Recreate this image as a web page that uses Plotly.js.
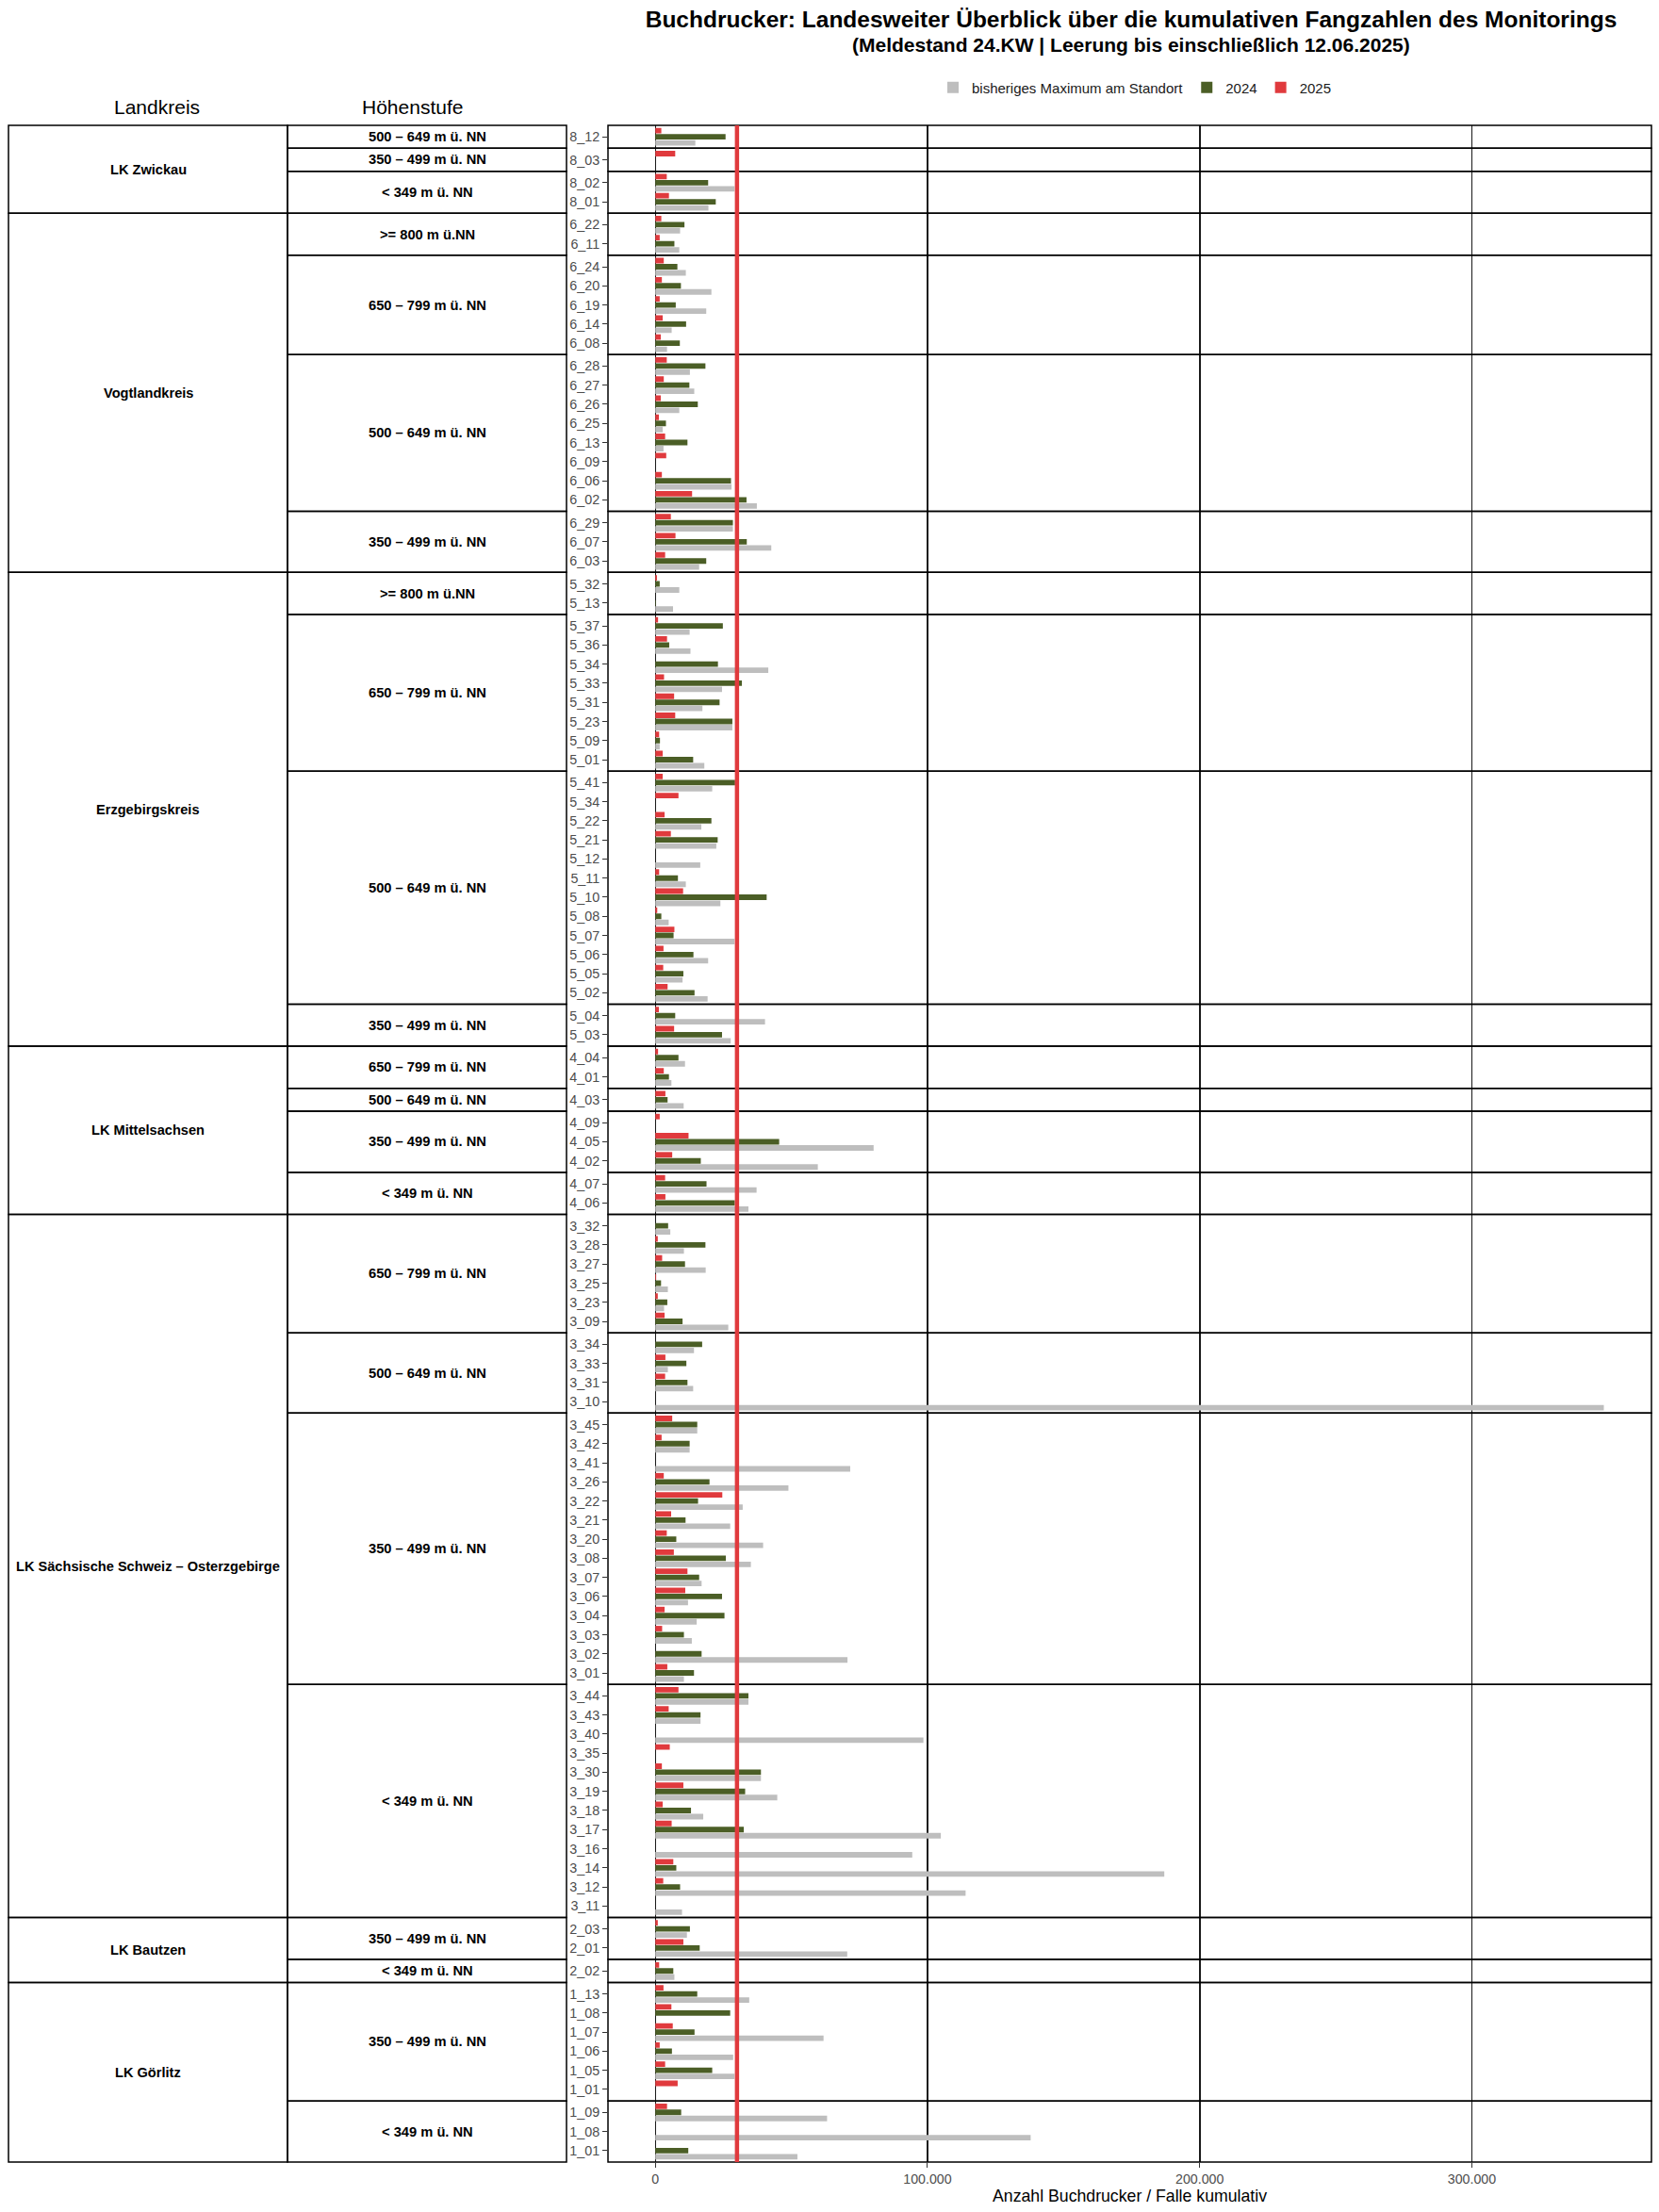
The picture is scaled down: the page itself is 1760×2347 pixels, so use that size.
<!DOCTYPE html>
<html>
<head>
<meta charset="utf-8">
<script src="https://cdn.plot.ly/plotly-3.0.1.min.js"></script>
<style>
html,body{margin:0;padding:0;background:#ffffff;}
#chart{width:1760px;height:2347px;}
</style>
</head>
<body>
<div id="chart"></div>
<script>
// ---------------- DATA ----------------
const panelKreis = [
  'LK Zwickau','LK Zwickau','LK Zwickau',
  'Vogtlandkreis','Vogtlandkreis','Vogtlandkreis','Vogtlandkreis',
  'Erzgebirgskreis','Erzgebirgskreis','Erzgebirgskreis','Erzgebirgskreis',
  'LK Mittelsachsen','LK Mittelsachsen','LK Mittelsachsen','LK Mittelsachsen',
  'LK Sächsische Schweiz – Osterzgebirge','LK Sächsische Schweiz – Osterzgebirge','LK Sächsische Schweiz – Osterzgebirge','LK Sächsische Schweiz – Osterzgebirge',
  'LK Bautzen','LK Bautzen',
  'LK Görlitz','LK Görlitz'
];
const panelStufe = [
  '500 – 649 m ü. NN','350 – 499 m ü. NN','< 349 m ü. NN',
  '>= 800 m ü.NN','650 – 799 m ü. NN','500 – 649 m ü. NN','350 – 499 m ü. NN',
  '>= 800 m ü.NN','650 – 799 m ü. NN','500 – 649 m ü. NN','350 – 499 m ü. NN',
  '650 – 799 m ü. NN','500 – 649 m ü. NN','350 – 499 m ü. NN','< 349 m ü. NN',
  '650 – 799 m ü. NN','500 – 649 m ü. NN','350 – 499 m ü. NN','< 349 m ü. NN',
  '350 – 499 m ü. NN','< 349 m ü. NN',
  '350 – 499 m ü. NN','< 349 m ü. NN'
];
const panelSize = [1,1,2, 2,5,8,3, 2,8,12,2, 2,1,3,2, 6,4,14,12, 2,1, 6,3];

// sites listed top to bottom
const sites = [
  '8_12','8_03','8_02','8_01',
  '6_22','6_11',
  '6_24','6_20','6_19','6_14','6_08',
  '6_28','6_27','6_26','6_25','6_13','6_09','6_06','6_02',
  '6_29','6_07','6_03',
  '5_32','5_13',
  '5_37','5_36','5_34','5_33','5_31','5_23','5_09','5_01',
  '5_41','5_34','5_22','5_21','5_12','5_11','5_10','5_08','5_07','5_06','5_05','5_02',
  '5_04','5_03',
  '4_04','4_01',
  '4_03',
  '4_09','4_05','4_02',
  '4_07','4_06',
  '3_32','3_28','3_27','3_25','3_23','3_09',
  '3_34','3_33','3_31','3_10',
  '3_45','3_42','3_41','3_26','3_22','3_21','3_20','3_08','3_07','3_06','3_04','3_03','3_02','3_01',
  '3_44','3_43','3_40','3_35','3_30','3_19','3_18','3_17','3_16','3_14','3_12','3_11',
  '2_03','2_01',
  '2_02',
  '1_13','1_08','1_07','1_06','1_05','1_01',
  '1_09','1_08','1_01'
];
const maxPrev = [
  14700,0,29100,19500,
  9100,8800,
  11200,20600,18700,6000,4300,
  12700,14300,8800,2700,3000,0,28000,37300,
  28500,42600,16100,
  8800,6500,
  12600,12900,41500,24500,17300,28300,1600,18000,
  20900,0,16900,22400,16500,11200,23900,4900,29100,19400,10000,19200,
  40300,27700,
  10900,5900,
  10400,
  0,80200,59700,
  37200,34200,
  5500,10500,18500,4600,3200,26800,
  14200,4600,13900,348500,
  15400,12600,71600,48900,32100,27500,39600,35100,17000,12000,15200,13400,70600,10500,
  34200,16600,98500,0,38800,44800,17600,104900,94400,187000,114000,9800,
  11600,70500,
  7000,
  34500,0,61800,28600,29100,0,
  63100,137900,52200
];
const v2024 = [
  25800,0,19400,22200,
  10700,7000,
  8100,9400,7500,11300,9000,
  18400,12500,15600,3900,11800,0,27800,33500,
  28500,33600,18700,
  1600,200,
  24800,5100,23000,31800,23600,28300,1700,13900,
  29300,0,20600,22900,0,8300,40900,2200,6700,14000,10300,14400,
  7300,24500,
  8500,5000,
  4500,
  0,45500,16700,
  18800,29200,
  4700,18400,10900,2100,4400,10000,
  17200,11400,11800,0,
  15400,12600,0,19900,15700,11100,7700,25900,16100,24500,25400,10500,17000,14200,
  34200,16600,0,0,38800,33000,13100,32500,0,7700,9100,0,
  12700,16300,
  6600,
  15400,27500,14400,6100,20900,0,
  9500,0,12100
];
const v2025 = [
  2200,7300,4200,5000,
  2200,1600,
  3100,2400,1600,2700,2000,
  4200,3100,2000,1300,3600,4000,2400,13500,
  5700,7400,3600,
  600,0,
  1000,4300,0,3200,6900,7300,1400,2700,
  2700,8500,3400,5700,0,1400,10200,700,7000,3000,2900,4500,
  1300,6900,
  1000,3100,
  3700,
  1600,12200,6200,
  3600,3700,
  0,900,2500,300,900,3400,
  0,3700,3600,0,
  6200,2300,0,3100,24600,5800,4200,6800,11800,11000,3400,2500,0,4400,
  8500,4900,0,5300,2400,10300,2700,6000,0,6600,2900,0,
  900,10300,
  1400,
  3000,5900,6400,1600,3600,8200,
  4300,0,0
];
const seriesNames = ['bisheriges Maximum am Standort','2024','2025'];
const THRESHOLD = 30000;
const xTickVals = [0,100000,200000,300000];
const xTickLabels = ['0','100.000','200.000','300.000'];

// ---------------- STYLE / LAYOUT ----------------
const W = 1760, H = 2347;
const TOP = 133, BOT = 2294;
const PL = 645, PR = 1752;
const TL = 9, TM = 305, TR = 601;
const COLORS = ['#bebebe','#4b5e26','#e03a3d'];
const FONT = 'Liberation Sans, Arial, Helvetica, sans-serif';
const LINE = {color:'#000000', width:1.5};

const units = panelSize.reduce((a,n)=>a+n+0.2,0);
const u = (BOT-TOP)/units;
const py = px => 1 - px/H;
const pxX = px => px/W;

const traces = [], shapes = [], annotations = [];
const layout = {
  width: W, height: H,
  margin:{l:0,r:0,t:0,b:0},
  paper_bgcolor:'#ffffff', plot_bgcolor:'#ffffff',
  font:{family:FONT, color:'#000000'},
  barmode:'group', bargap:0.04, bargroupgap:0.1,
  showlegend:true,
  legend:{orientation:'h', x:1204/W, xanchor:'center', y:py(93), yanchor:'middle',
          font:{size:15,color:'#1a1a1a'}, traceorder:'normal', itemwidth:30, bgcolor:'rgba(0,0,0,0)'},
  title:{text:'<b>Buchdrucker: Landesweiter Überblick über die kumulativen Fangzahlen des Monitorings</b>',
         x:1200/W, xanchor:'center', y:py(20), yanchor:'middle', font:{size:24.5,color:'#000000', family:FONT}},
};

let cursor = TOP, idx = 0;
const panelBounds = [];
panelSize.forEach((n,p)=>{
  const y0 = cursor, y1 = cursor + (n+0.2)*u;
  cursor = y1;
  panelBounds.push([y0,y1]);
  const labs = sites.slice(idx, idx+n);
  const vals = [maxPrev.slice(idx,idx+n), v2024.slice(idx,idx+n), v2025.slice(idx,idx+n)];
  idx += n;
  const yname = p===0 ? 'y' : 'y'+(p+1);
  const ykey = p===0 ? 'yaxis' : 'yaxis'+(p+1);
  layout[ykey] = {
    domain:[py(y1), py(y0)], anchor:'x', type:'category',
    categoryorder:'array', categoryarray: labs.slice().reverse(),
    range:[-0.6, n-0.4], tickmode:'linear', tick0:0, dtick:1,
    ticks:'outside', ticklen:5, tickwidth:1, tickcolor:'#333333',
    tickfont:{size:14.3,color:'#4d4d4d',family:FONT},
    showgrid:false, zeroline:false, showline:false, fixedrange:true
  };
  for (let s=0;s<3;s++){
    traces.push({
      type:'bar', orientation:'h', x: vals[s], y: labs,
      xaxis:'x', yaxis: yname, name: seriesNames[s], legendgroup: seriesNames[s],
      showlegend: p===0, marker:{color:COLORS[s], line:{width:0}}, hoverinfo:'x+y+name'
    });
  }
  // panel border
  shapes.push({type:'rect', xref:'paper', yref:'paper', x0:pxX(PL), x1:pxX(PR), y0:py(y1), y1:py(y0),
               line:LINE, fillcolor:'rgba(0,0,0,0)', layer:'above'});
  // Höhenstufe cell
  shapes.push({type:'rect', xref:'paper', yref:'paper', x0:pxX(TM), x1:pxX(TR), y0:py(y1), y1:py(y0),
               line:LINE, fillcolor:'rgba(0,0,0,0)'});
  annotations.push({xref:'paper', yref:'paper', x:pxX((TM+TR)/2), y:py((y0+y1)/2), xanchor:'center', yanchor:'middle',
                    text:'<b>'+panelStufe[p].replace('<','&lt;')+'</b>', showarrow:false, font:{size:14.7,color:'#000000',family:FONT}});
});

// Landkreis groups
let g0 = 0;
for (let p=1;p<=panelKreis.length;p++){
  if (p===panelKreis.length || panelKreis[p]!==panelKreis[g0]){
    const y0 = panelBounds[g0][0], y1 = panelBounds[p-1][1];
    shapes.push({type:'rect', xref:'paper', yref:'paper', x0:pxX(TL), x1:pxX(TM), y0:py(y1), y1:py(y0),
                 line:LINE, fillcolor:'rgba(0,0,0,0)'});
    annotations.push({xref:'paper', yref:'paper', x:pxX((TL+TM)/2), y:py((y0+y1)/2), xanchor:'center', yanchor:'middle',
                      text:'<b>'+panelKreis[g0]+'</b>', showarrow:false, font:{size:14.6,color:'#000000',family:FONT}});
    g0 = p;
  }
}

// threshold line
shapes.push({type:'line', xref:'x', yref:'paper', x0:THRESHOLD, x1:THRESHOLD, y0:py(BOT), y1:py(TOP),
             line:{color:'#e03a3d', width:4.5}, layer:'above'});

// headers and subtitle
annotations.push({xref:'paper', yref:'paper', x:166/W, y:py(114), xanchor:'center', yanchor:'middle',
                  text:'Landkreis', showarrow:false, font:{size:21,color:'#000000',family:FONT}});
annotations.push({xref:'paper', yref:'paper', x:437/W, y:py(114), xanchor:'center', yanchor:'middle',
                  text:'Höhenstufe', showarrow:false, font:{size:21,color:'#000000',family:FONT}});
annotations.push({xref:'paper', yref:'paper', x:1200/W, y:py(48), xanchor:'center', yanchor:'middle',
                  text:'<b>(Meldestand 24.KW | Leerung bis einschließlich 12.06.2025)</b>', showarrow:false,
                  font:{size:21,color:'#000000',family:FONT}});

const lastY = 'y'+panelSize.length;
layout.xaxis = {
  domain:[pxX(PL), pxX(PR)], anchor:lastY, range:[-17400, 366000],
  tickmode:'array', tickvals:xTickVals, ticktext:xTickLabels,
  showgrid:true, gridcolor:'#1a1a1a', gridwidth:1.8,
  zeroline:true, zerolinecolor:'#1a1a1a', zerolinewidth:1,
  ticks:'outside', ticklen:5, tickwidth:1, tickcolor:'#333333',
  tickfont:{size:14.2,color:'#4d4d4d',family:FONT},
  showline:false, fixedrange:true,
  title:{text:'Anzahl Buchdrucker / Falle kumulativ', font:{size:17.7,color:'#000000',family:FONT}, standoff:4}
};
layout.shapes = shapes;
layout.annotations = annotations;

Plotly.newPlot('chart', traces, layout, {displayModeBar:false, staticPlot:true});
</script>
</body>
</html>
